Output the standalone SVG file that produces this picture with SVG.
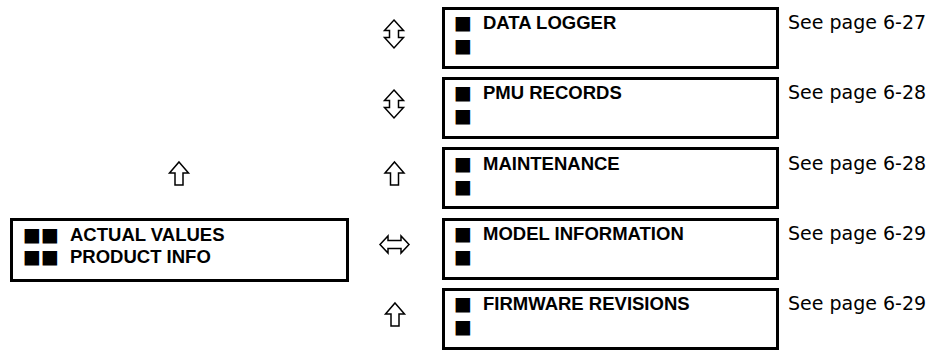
<svg xmlns="http://www.w3.org/2000/svg" width="929" height="350" viewBox="0 0 929 350">
<style>
.box{fill:#fff;stroke:#000;stroke-width:3}
.b{font-family:"Liberation Sans",Arial,sans-serif;font-weight:bold;font-size:18.5px;fill:#000}
.bul{font-family:"DejaVu Sans",sans-serif;font-size:19px;fill:#000}
.r{font-family:"DejaVu Sans",sans-serif;font-size:19px;fill:#000}
.arr{fill:#fff;stroke:#000;stroke-width:1.5;stroke-linejoin:miter}
</style>
<defs>
<path id="up" d="M0,0 L9.5,11 L4,11 L4,23 L-4,23 L-4,11 L-9.5,11 Z"/>
<path id="updown" d="M0,0 L9.5,10.5 L4.5,10.5 L4.5,17.5 L9.5,17.5 L0,28 L-9.5,17.5 L-4.5,17.5 L-4.5,10.5 L-9.5,10.5 Z"/>
</defs>
<g id="connectors">
<use href="#up" class="arr" x="179" y="162"/>
<use href="#updown" class="arr" x="394" y="20"/>
<use href="#updown" class="arr" x="394" y="90"/>
<use href="#up" class="arr" x="394.5" y="162"/>
<path class="arr" d="M380,244.5 L388,236 L388,240.5 L401,240.5 L401,236 L409,244.5 L401,253 L401,248.5 L388,248.5 L388,253 Z"/>
<use href="#up" class="arr" x="395" y="303"/>
</g>
<g id="actual-values">
<rect class="box" x="11.5" y="219.5" width="336" height="61"/>
<text class="bul" x="23" y="241">■■</text>
<text class="b" x="70" y="241">ACTUAL VALUES</text>
<text class="bul" x="23" y="263">■■</text>
<text class="b" x="70" y="263">PRODUCT INFO</text>
</g>
<g id="data-logger">
<rect class="box" x="443.5" y="8.5" width="334" height="59"/>
<text class="bul" x="454" y="29">■</text>
<text class="b" x="483" y="29">DATA LOGGER</text>
<text class="bul" x="454" y="52">■</text>
<text class="r" x="788" y="29">See page 6-27</text>
</g>
<g id="pmu-records">
<rect class="box" x="443.5" y="78.5" width="334" height="59"/>
<text class="bul" x="454" y="99">■</text>
<text class="b" x="483" y="99">PMU RECORDS</text>
<text class="bul" x="454" y="122">■</text>
<text class="r" x="788" y="99">See page 6-28</text>
</g>
<g id="maintenance">
<rect class="box" x="443.5" y="148.5" width="334" height="59"/>
<text class="bul" x="454" y="170">■</text>
<text class="b" x="483" y="170">MAINTENANCE</text>
<text class="bul" x="454" y="193">■</text>
<text class="r" x="788" y="170">See page 6-28</text>
</g>
<g id="model-information">
<rect class="box" x="443.5" y="219.5" width="334" height="59"/>
<text class="bul" x="454" y="240">■</text>
<text class="b" x="483" y="240">MODEL INFORMATION</text>
<text class="bul" x="454" y="263">■</text>
<text class="r" x="788" y="240">See page 6-29</text>
</g>
<g id="firmware-revisions">
<rect class="box" x="443.5" y="289.5" width="334" height="59"/>
<text class="bul" x="454" y="310">■</text>
<text class="b" x="483" y="310">FIRMWARE REVISIONS</text>
<text class="bul" x="454" y="333">■</text>
<text class="r" x="788" y="310">See page 6-29</text>
</g>
</svg>
